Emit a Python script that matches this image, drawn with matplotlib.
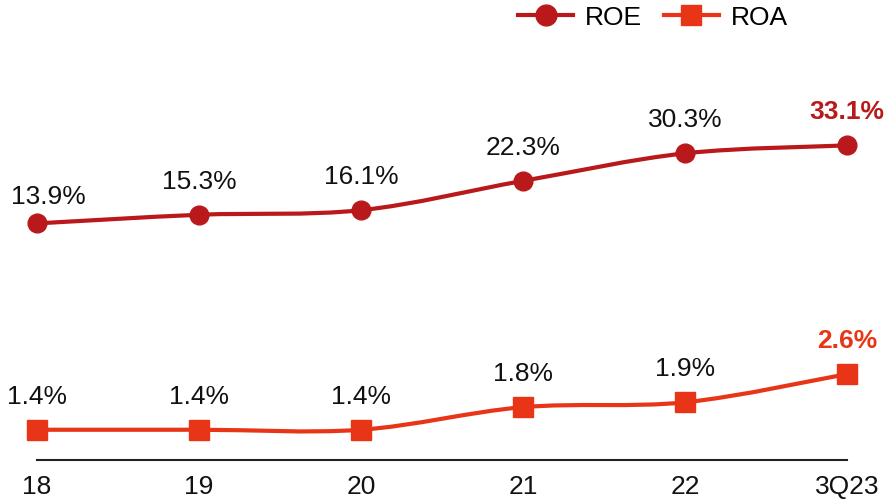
import matplotlib
matplotlib.use('Agg')
import matplotlib.pyplot as plt
import numpy as np
from matplotlib.path import Path
from matplotlib.patches import PathPatch
from matplotlib.lines import Line2D

periods = ['18', '19', '20', '21', '22', '3Q23']
roe = [13.9, 15.3, 16.1, 22.3, 30.3, 33.1]
roa = [1.4, 1.4, 1.4, 1.8, 1.9, 2.6]

roe_color = '#B9191A'
roa_color = '#E83518'

plt.rcParams['font.family'] = ['Liberation Sans Narrow', 'Liberation Sans', 'DejaVu Sans']


def smooth_path(x, y):
    # cardinal spline (tension 0) in log-y space, drawn as cubic beziers
    x = np.asarray(x, dtype=float)
    ly = np.log(np.asarray(y, dtype=float))
    px = np.concatenate([[x[0]], x, [x[-1]]])
    py = np.concatenate([[ly[0]], ly, [ly[-1]]])
    verts = [(x[0], np.exp(ly[0]))]
    codes = [Path.MOVETO]
    for i in range(1, len(x)):
        j = i + 1  # index in padded arrays of point i
        c1x = px[j - 1] + (px[j] - px[j - 2]) / 6
        c1y = py[j - 1] + (py[j] - py[j - 2]) / 6
        c2x = px[j] - (px[j + 1] - px[j - 1]) / 6
        c2y = py[j] - (py[j + 1] - py[j - 1]) / 6
        verts += [(c1x, np.exp(c1y)), (c2x, np.exp(c2y)), (px[j], np.exp(py[j]))]
        codes += [Path.CURVE4] * 3
    return Path(verts, codes)


fig = plt.figure(figsize=(8.88, 5.02), dpi=100)
ax = fig.add_axes([37 / 888, 1 - 461 / 502, 810 / 888, (461 - 47) / 502])
ax.set_yscale('log')
ax.set_ylim(1, 100)
ax.set_xlim(0, len(periods) - 1)

x = np.arange(len(periods))

for vals, col, mk, ms in [(roe, roe_color, 'o', 13.5), (roa, roa_color, 's', 14)]:
    patch = PathPatch(smooth_path(x, vals), facecolor='none', edgecolor=col,
                      lw=3, clip_on=False, zorder=2)
    ax.add_patch(patch)
    ax.plot(x, vals, ls='none', marker=mk, ms=ms, color=col, mec=col,
            clip_on=False, zorder=3)
    for i, v in enumerate(vals):
        last = i == len(vals) - 1
        dx, dy = 0, 19.5
        if vals is roe and i == 0:
            dx, dy = 8, 14.5
        ax.annotate(f'{v:.1f}%', (x[i], v), xytext=(dx, dy), textcoords='offset points',
                    ha='center', va='baseline', fontsize=19,
                    color=col if last else '#111111',
                    fontweight='bold' if last else 'normal')

for s in ['left', 'right', 'top']:
    ax.spines[s].set_visible(False)
ax.spines['bottom'].set_color('#222222')
ax.spines['bottom'].set_linewidth(1.5)
ax.yaxis.set_visible(False)
ax.set_xticks(x)
ax.set_xticklabels(periods)
ax.tick_params(axis='x', length=0, pad=10, labelsize=19, labelcolor='#111111')
ax.yaxis.set_minor_locator(matplotlib.ticker.NullLocator())

handles = [Line2D([], [], color=roe_color, lw=3, marker='o', ms=15),
           Line2D([], [], color=roa_color, lw=3, marker='s', ms=15)]
fig.legend(handles, ['ROE', 'ROA'], loc='center right', ncol=2,
           bbox_to_anchor=(788 / 888, 1 - 18 / 502), frameon=False,
           fontsize=19, handlelength=2.1, handletextpad=0.45,
           columnspacing=0.8, borderpad=0, borderaxespad=0)

fig.savefig('out.png', dpi=100)
